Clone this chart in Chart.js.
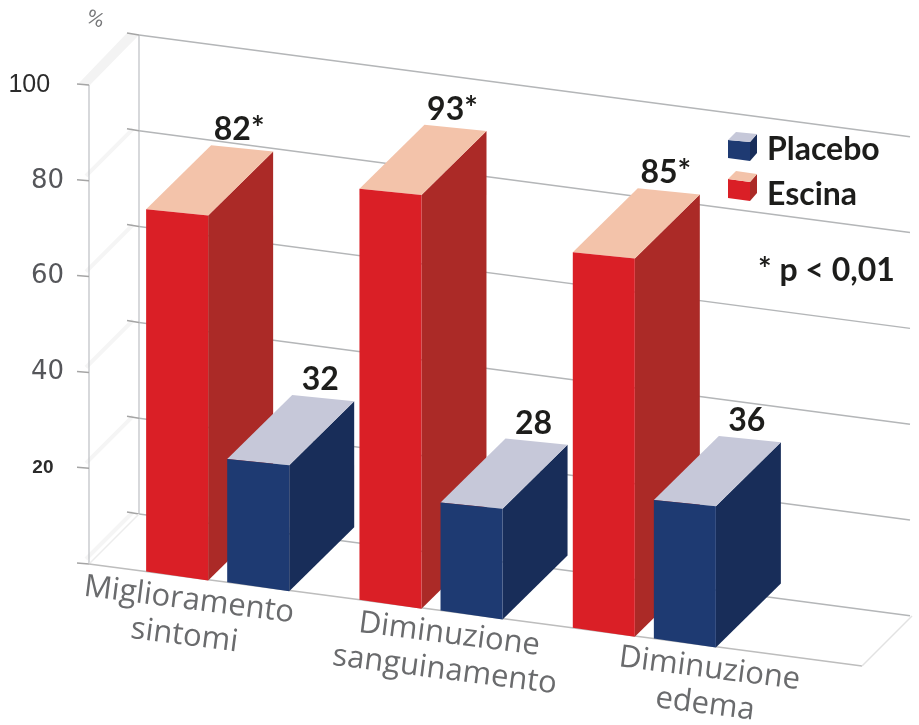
<!DOCTYPE html>
<html>
<head>
<meta charset="utf-8">
<script src="https://cdn.jsdelivr.net/npm/chart.js@4"></script>
<style>
  html, body { margin: 0; padding: 0; background: #fff; }
  canvas { display: block; }
</style>
</head>
<body>
<canvas id="chart" width="919" height="725"></canvas>
<script>
var categories = [["Miglioramento", "sintomi"], ["Diminuzione", "sanguinamento"], ["Diminuzione", "edema"]];
var escina = [82, 93, 85];
var placebo = [32, 28, 36];
var escinaLabels = ["82*", "93*", "85*"];
var placeboLabels = ["32", "28", "36"];
var yTicks = [100, 80, 60, 40, 20, 0];

// look of the fake 3d box
var slope = 0.132;
var depthX = 65;
var depthY = 64;
var boldFont = "bold 32px Lato";

var redFaces = { front: "#da1f26", side: "#ab2a27", top: "#f3c3aa" };
var blueFaces = { front: "#1e3a72", side: "#182d59", top: "#c6c8d9" };

function skew(x, y) {
    return y + (x - 89) * slope;
}

function poly(ctx, pts, color) {
    ctx.fillStyle = color;
    ctx.beginPath();
    pts.forEach(function (p, i) {
        if (i == 0) ctx.moveTo(p[0], p[1]);
        else ctx.lineTo(p[0], p[1]);
    });
    ctx.closePath();
    ctx.fill();
}

function line(ctx, x1, y1, x2, y2, color, width) {
    ctx.strokeStyle = color;
    ctx.lineWidth = width;
    ctx.beginPath();
    ctx.moveTo(x1, y1);
    ctx.lineTo(x2, y2);
    ctx.stroke();
}

function drawWalls(ctx, yScale) {
    var top = yScale.getPixelForValue(100);
    var bottom = yScale.getPixelForValue(0);
    // side wall bands
    yTicks.forEach(function (v) {
        var y = yScale.getPixelForValue(v);
        if (v == 100) poly(ctx, [[78, y - 1], [127, y - 52], [139, y - 50], [89, y + 1]], "#f3f3f3");
        else line(ctx, 86, y - 5, 133, y - 52, "#f5f5f5", 4);
    });
    line(ctx, 89, top, 89, bottom, "#bcbfc3", 1.2);
    line(ctx, 139, top - 50, 139, bottom - 50, "#bcbfc3", 1.2);
    yTicks.forEach(function (v) {
        var y = yScale.getPixelForValue(v);
        line(ctx, 77, y - 1, 89, y, "#a5a5a5", 1.5);
        line(ctx, 127, y - 52, 139, y - 50, "#a5a5a5", 1.5);
        line(ctx, 139, y - 50, 910, y - 50 + 771 * slope, "#b4b6b8", 1.5);
    });
    // floor
    line(ctx, 89, bottom, 139, bottom - 50, "#ececec", 1.5);
    line(ctx, 89, bottom, 862, skew(862, bottom), "#bdbdbd", 1.5);
    line(ctx, 862, skew(862, bottom), 912, bottom - 50 + 773 * slope, "#e2e2e2", 1.5);
}

function drawBox(ctx, bar, faces) {
    var x0 = bar.x - bar.width / 2;
    var x1 = bar.x + bar.width / 2;
    var topL = skew(x0, bar.y);
    var topR = topL + bar.width * 0.1;
    var botL = skew(x0, bar.base);
    var botR = botL + bar.width * 0.145;
    poly(ctx, [[x1, topR], [x1 + depthX, topR - depthY], [x1 + depthX, botR - depthY], [x1, botR]], faces.side);
    poly(ctx, [[x0, topL], [x0 + depthX, topL - depthY], [x1 + depthX, topR - depthY], [x1, topR]], faces.top);
    poly(ctx, [[x0, topL], [x1, topR], [x1, botR], [x0, botL]], faces.front);
}

function valueLabel(ctx, bar, text) {
    var x0 = bar.x - bar.width / 2;
    ctx.font = boldFont;
    ctx.fillStyle = "#1d1d1b";
    ctx.textAlign = "center";
    ctx.textBaseline = "alphabetic";
    ctx.fillText(text, x0 + 93, skew(x0, bar.y) - 69);
}

function drawCategories(ctx, xScale, yScale) {
    var base = yScale.getPixelForValue(0);
    var first = xScale.getPixelForValue(0);
    categories.forEach(function (lines, i) {
        // the captions are spread wider than the bars
        var x = 189 + (xScale.getPixelForValue(i) - first) * 1.22;
        ctx.save();
        ctx.translate(x, skew(x, base) + 23);
        ctx.rotate(7.3 * Math.PI / 180);
        ctx.font = "400 31px 'Open Sans'";
        ctx.fillStyle = "#6a6b6d";
        ctx.textAlign = "center";
        ctx.textBaseline = "middle";
        lines.forEach(function (s, j) {
            ctx.fillText(s, 0, j * 36);
        });
        ctx.restore();
    });
}

function drawLegend(ctx) {
    poly(ctx, [[728, 140], [750, 142], [750, 161], [728, 158]], blueFaces.front);
    poly(ctx, [[750, 142], [757, 134], [757, 153], [750, 161]], blueFaces.side);
    poly(ctx, [[728, 140], [736, 132], [757, 134], [750, 142]], blueFaces.top);
    poly(ctx, [[728, 179], [750, 182], [750, 201], [728, 198]], redFaces.front);
    poly(ctx, [[750, 182], [757, 174], [757, 193], [750, 201]], redFaces.side);
    poly(ctx, [[728, 179], [736, 171], [757, 174], [750, 182]], redFaces.top);
    ctx.font = boldFont;
    ctx.fillStyle = "#1d1d1b";
    ctx.textAlign = "left";
    ctx.textBaseline = "alphabetic";
    ctx.fillText("Placebo", 767, 160);
    ctx.fillText("Escina", 767, 205);
    ctx.fillText("* p < 0,01", 758, 281);
}

var boxes3d = {
    id: "boxes3d",
    beforeDatasetsDraw: function (chart) {
        var ctx = chart.ctx;
        var yScale = chart.scales.y;
        ctx.save();
        drawWalls(ctx, yScale);
        var red = chart.getDatasetMeta(0).data;
        var blue = chart.getDatasetMeta(1).data;
        categories.forEach(function (c, i) {
            drawBox(ctx, red[i], redFaces);
            drawBox(ctx, blue[i], blueFaces);
        });
        categories.forEach(function (c, i) {
            valueLabel(ctx, red[i], escinaLabels[i]);
            valueLabel(ctx, blue[i], placeboLabels[i]);
        });
        drawCategories(ctx, chart.scales.x, yScale);
        drawLegend(ctx);
        // unit mark
        ctx.translate(95, 20);
        ctx.rotate(22 * Math.PI / 180);
        ctx.font = "19px 'DejaVu Sans'";
        ctx.fillStyle = "#77787a";
        ctx.textAlign = "center";
        ctx.textBaseline = "middle";
        ctx.fillText("%", 0, 0);
        ctx.restore();
        return false; // boxes are done, skip the flat bars
    }
};

function tickFont(c) {
    var v = c.tick ? c.tick.value : 0;
    if (v == 100) return { family: "'Liberation Sans'", size: 25 };
    if (v == 20) return { family: "'Liberation Sans'", size: 19, weight: "bold" };
    return { family: "'DejaVu Sans'", size: 26 };
}

var chart = new Chart(document.getElementById("chart"), {
    type: "bar",
    data: {
        labels: categories,
        datasets: [
            { label: "Escina", data: escina, yAxisID: "yEscina", backgroundColor: redFaces.front },
            { label: "Placebo", data: placebo, yAxisID: "yPlacebo", backgroundColor: blueFaces.front }
        ]
    },
    plugins: [boxes3d],
    options: {
        responsive: false,
        animation: false,
        layout: { padding: { top: 85, bottom: 161, right: 168 } },
        plugins: { legend: { display: false }, tooltip: { enabled: false } },
        datasets: { bar: { barPercentage: 0.765, categoryPercentage: 0.76 } },
        scales: {
            x: { display: false },
            y: {
                min: 0,
                max: 100,
                afterFit: function (s) { s.width = 111; },
                grid: { display: false },
                border: { display: false },
                ticks: {
                    stepSize: 20,
                    padding: 39,
                    color: function (c) { return c.tick && (c.tick.value == 100 || c.tick.value == 20) ? "#2b2b2b" : "#55565a"; },
                    font: tickFont,
                    // 0 has no label, 100 and 20 sit further left
                    callback: function (v) {
                        if (v == 0) return "";
                        if (v == 100) return "100  ";
                        if (v == 20) return "20  ";
                        return String(v);
                    }
                }
            },
            // the boxes stand in front of the wall, so they have their own height scales
            yEscina: { display: false, min: 0, max: 108.4 },
            yPlacebo: { display: false, min: 0, max: 124.4 }
        }
    }
});
</script>
</body>
</html>
